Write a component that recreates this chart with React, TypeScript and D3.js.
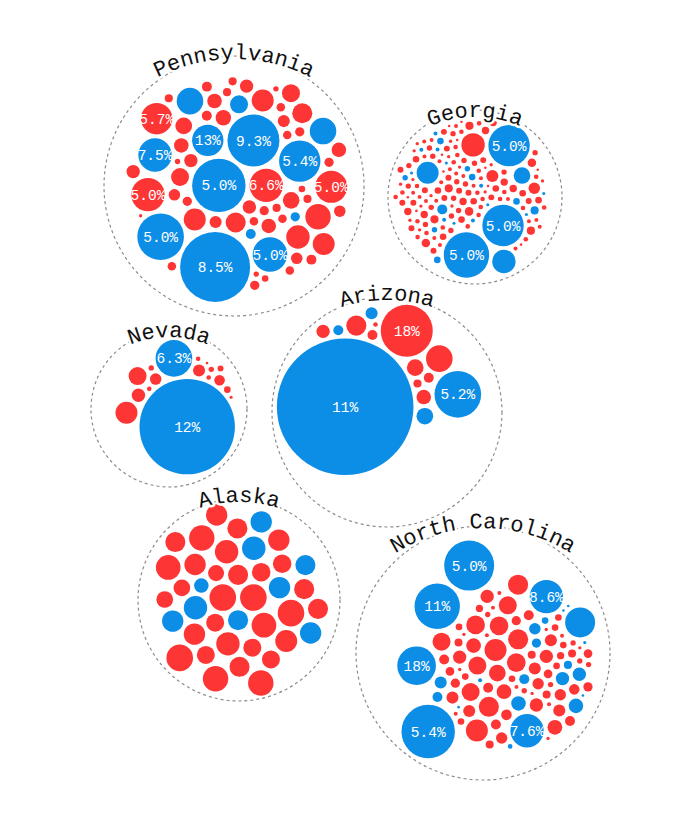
import React, { useEffect, useRef } from "react";
import * as d3 from "d3";

// one row per county: [votes (thousands), winner, share label in %]
type County = [number, string, number?];

const pennsylvania: County[] = [
  [432, "D", 5.0], [169, "R", 6.6], [27, "R"], [409, "D", 9.3], [61, "R"], [13, "R"], [149, "D", 13],
  [22, "R"], [11, "R"], [259, "D", 5.4], [32, "R"], [10, "R"], [73, "R"], [15, "D"], [27, "R"],
  [742, "D", 8.5], [42, "R"], [11, "R"], [13, "R"], [181, "D", 5.0], [49, "R"], [6.6, "R"], [20, "R"],
  [329, "D", 5.0], [36, "R"], [13, "D"], [32, "R"], [169, "R", 5.0], [11, "R"], [83, "R"], [4.4, "R"],
  [169, "D", 7.5], [27, "R"], [10, "R"], [98, "R"], [49, "D"], [15, "R"], [42, "R"], [155, "R", 5.0],
  [22, "R"], [13, "R"], [107, "D"], [73, "R"], [11, "R"], [32, "R"], [149, "R", 5.7], [10, "R"],
  [61, "R"], [4.4, "R"], [20, "R"], [107, "D"], [13, "R"], [73, "R"], [27, "R"], [11, "R"], [49, "R"],
  [10, "R"], [32, "R"], [6.6, "R"], [20, "R"], [15, "R"], [11, "R"], [1.7, "R"], [4.4, "R"], [13, "R"],
  [10, "R"], [15, "R"]
];

const georgia: County[] = [
  [5.4, "R"], [3.2, "R"], [6.6, "R"], [2.4, "R"], [4.4, "R"], [8.3, "R"], [2.4, "D"], [3.2, "R"], [5.4, "R"], [1.7, "R"],
  [4.4, "R"], [6.6, "D"], [2.4, "R"], [3.2, "R"], [11, "R"], [1.0, "R"], [4.4, "R"], [5.4, "R"], [2.4, "R"], [3.2, "R"],
  [22, "R"], [1.4, "D"], [6.6, "R"], [4.4, "R"], [2.4, "R"], [3.2, "R"], [10, "R"], [1.7, "R"], [5.4, "R"], [4.4, "D"],
  [259, "D", 5.0], [3.2, "R"], [8.3, "R"], [1.0, "R"], [4.4, "R"], [6.6, "R"], [2.4, "D"], [3.2, "R"], [5.4, "R"], [1.7, "R"],
  [15, "D"], [2.4, "R"], [4.4, "R"], [3.2, "R"], [312, "D", 5.0], [1.4, "D"], [5.4, "R"], [2.4, "R"], [6.6, "R"], [4.4, "R"],
  [83, "R"], [3.2, "R"], [1.7, "R"], [8.3, "R"], [2.4, "R"], [6.6, "D"], [4.4, "R"], [259, "D", 5.0], [1.0, "R"], [3.2, "R"],
  [2.4, "R"], [73, "D"], [1.7, "R"], [4.4, "R"], [2.4, "D"], [5.4, "R"], [3.2, "R"], [6.6, "R"], [1.4, "D"], [2.4, "R"],
  [42, "D"], [4.4, "R"], [3.2, "R"], [10, "R"], [1.7, "R"], [5.4, "R"], [2.4, "R"], [8.3, "R"], [1.0, "R"], [4.4, "D"],
  [3.2, "R"], [2.4, "R"], [6.6, "R"], [20, "R"], [1.7, "R"], [4.4, "R"], [5.4, "R"], [2.4, "D"], [3.2, "R"], [1.0, "R"],
  [83, "D"], [2.4, "R"], [6.6, "D"], [4.4, "R"], [8.3, "R"], [1.7, "R"], [3.2, "R"], [5.4, "R"], [1.4, "D"], [2.4, "R"],
  [2.4, "R"], [4.4, "R"], [11, "R"], [1.0, "R"], [3.2, "R"], [6.6, "R"], [2.4, "R"], [5.4, "R"], [1.7, "R"], [10, "D"],
  [4.4, "R"], [3.2, "R"], [2.4, "R"], [8.3, "R"], [1.0, "R"], [11, "R"], [5.4, "R"], [1.7, "R"], [2.4, "D"], [3.2, "R"],
  [6.6, "R"], [4.4, "R"], [2.4, "R"], [1.4, "D"], [10, "R"], [3.2, "R"], [1.7, "R"], [5.4, "R"], [10, "R"], [2.4, "R"],
  [4.4, "R"], [6.6, "D"], [1.0, "R"], [3.2, "R"], [8.3, "R"], [2.4, "R"], [1.7, "R"], [4.4, "D"], [5.4, "R"], [5.4, "R"],
  [3.2, "R"], [2.4, "R"], [1.0, "R"], [4.4, "R"], [1.7, "R"], [2.4, "D"], [3.2, "R"], [1.4, "D"], [1.0, "R"], [2.4, "R"],
  [1.7, "R"], [3.2, "R"], [2.4, "R"], [1.0, "R"], [1.7, "R"], [2.4, "R"], [3.2, "R"]
];

const nevada: County[] = [
  [1378, "D", 12], [203, "D", 6.3], [22, "R"], [20, "R"], [3.2, "R"], [3.2, "R"], [27, "R"], [17, "R"],
  [73, "R"], [6.6, "R"], [49, "R"], [4.4, "R"], [4.4, "R"], [3.2, "R"], [5.4, "R"], [1.5, "R"], [1.1, "R"]
];

const arizona: County[] = [
  [2826, "D", 11], [409, "R", 18], [42, "R"], [15, "R"], [61, "R"], [10, "R"], [15, "D"], [32, "R"],
  [3.2, "R"], [42, "D"], [27, "R"], [22, "D"], [15, "R"], [107, "R"], [329, "D", 5.2]
];

const alaska: County[] = [
  [107, "R"], [107, "R"], [61, "D"], [61, "R"], [39, "R"], [52, "R"], [92, "R"], [49, "R"], [32, "D"], [83, "D"],
  [69, "D"], [107, "R"], [83, "R"], [83, "R"], [83, "D"], [49, "R"], [69, "R"], [52, "R"], [69, "R"], [98, "R"],
  [49, "R"], [42, "R"], [69, "R"], [92, "R"], [73, "R"], [49, "R"], [61, "R"], [61, "R"], [61, "D"], [61, "R"],
  [69, "D"], [42, "R"], [98, "R"], [69, "R"], [69, "D"], [98, "R"], [69, "D"], [61, "R"], [61, "R"], [107, "R"]
];

const northCarolina: County[] = [
  [53, "R"], [6.7, "R"], [42, "R"], [15, "D"], [22, "R"], [73, "R"], [2.4, "R"], [33, "R"], [9.7, "R"], [61, "R"],
  [13, "D"], [19.5, "R"], [4.3, "R"], [49, "R"], [27, "R"], [1.7, "R"], [15, "R"], [32, "D"], [11.4, "R"], [53, "R"],
  [6.7, "R"], [22, "R"], [2.4, "D"], [27, "R"], [61, "R"], [9.7, "R"], [17, "R"], [20, "D"], [4.3, "R"], [33, "R"],
  [2.4, "R"], [49, "R"], [13, "R"], [6.7, "R"], [27, "D"], [15, "R"], [1.7, "R"], [22, "R"], [53, "R"], [8, "R"],
  [169, "D", 7.6], [6.7, "R"], [19.5, "R"], [2.4, "R"], [27, "R"], [4.3, "R"], [10, "D"], [9.7, "R"], [49, "R"], [1.7, "R"],
  [22, "R"], [15, "R"], [6.6, "D"], [33, "R"], [6.7, "R"], [169, "D", 8.6], [13, "R"], [2.4, "R"], [61, "R"], [4.3, "R"],
  [17, "R"], [27, "D"], [9.7, "R"], [1.7, "R"], [19.5, "R"], [6.7, "R"], [136, "D"], [11.4, "R"], [2.4, "R"], [73, "R"],
  [15, "R"], [4.3, "R"], [32, "D"], [22, "R"], [1.0, "D"], [8, "R"], [49, "R"], [6.7, "R"], [312, "D", 11], [1.7, "R"],
  [27, "R"], [11.4, "R"], [22, "D"], [2.4, "R"], [13, "R"], [9.7, "R"], [15, "D"], [4.3, "R"], [378, "D", 5.0], [1.5, "D"],
  [15, "R"], [6.7, "R"], [1.0, "D"], [2.4, "R"], [226, "D", 18], [1.7, "R"], [3.2, "D"], [1.0, "D"], [432, "D", 5.4], [1.0, "D"]
];

const stateNames = ["Pennsylvania", "Georgia", "Nevada", "Arizona", "Alaska", "North Carolina"];
const stateCounties = [pennsylvania, georgia, nevada, arizona, alaska, northCarolina];

const partyColor: Record<string, string> = { D: "#0c8de6", R: "#fd3535" };

export default function App() {
  const ref = useRef<SVGSVGElement>(null);

  useEffect(() => {
    const svg = d3.select(ref.current);
    svg.selectAll("*").remove();

    const rScale = d3.scaleSqrt().domain([0, 2800]).range([0, 68]);
    const fmt = (p: number) => (p >= 10 ? d3.format(".0f")(p) : d3.format(".1f")(p)) + "%";
    const mono = "'Liberation Mono', 'DejaVu Sans Mono', monospace";

    // ring for each state: centre x, centre y, ring radius, turn of the packed group (deg),
    // nudge of the group inside the ring, gap padding, drop of the name arc
    const slots = [
      [234, 186, 130, 0, 0, 0, 2, 3],
      [475, 197, 87, 0, 0, 0, 1.8, 7],
      [169, 409, 78, -101, 14, -2, 1.8, 6],
      [387, 412, 115, -51, -8, -10, 1.8, 3],
      [239, 600, 101, 0, 0, 0, 2, 3],
      [483, 653, 127, 105, 0, 5, 2, 2]
    ];

    stateNames.forEach((name, i) => {
      const [cx, cy, R, rot, ox, oy, pad, drop] = slots[i];
      const nodes: any[] = stateCounties[i].map(([v, party, pct]) => ({
        r: rScale(v) + pad, size: rScale(v), party, pct
      }));
      d3.packSiblings(nodes);
      const enc = d3.packEnclose(nodes);
      const a = (rot * Math.PI) / 180;
      nodes.forEach(d => {
        const x = d.x - enc.x, y = d.y - enc.y;
        d.px = x * Math.cos(a) - y * Math.sin(a) + ox;
        d.py = x * Math.sin(a) + y * Math.cos(a) + oy;
      });

      const g = svg.append("g").attr("transform", `translate(${cx},${cy})`);

      g.append("circle")
        .attr("r", R)
        .attr("fill", "none")
        .attr("stroke", "#8c8c8c")
        .attr("stroke-width", 1.2)
        .attr("stroke-dasharray", "3,3");

      g.append("g")
        .selectAll("circle")
        .data(nodes)
        .join("circle")
        .attr("cx", d => d.px)
        .attr("cy", d => d.py)
        .attr("r", d => d.size)
        .attr("fill", d => partyColor[d.party]);

      g.append("g")
        .selectAll("text")
        .data(nodes.filter(d => d.pct != null))
        .join("text")
        .attr("x", d => d.px)
        .attr("y", d => d.py)
        .attr("dy", "0.35em")
        .attr("text-anchor", "middle")
        .attr("fill", "#fff")
        .attr("font-family", mono)
        .attr("font-size", 14.5)
        .text(d => fmt(d.pct));

      // state name bent along a flatter arc over the ring
      const ra = R * 1.3;
      const acy = -R + drop + ra;
      const span = 1.0;
      const x0 = -ra * Math.sin(span), y0 = acy - ra * Math.cos(span);
      g.append("path")
        .attr("id", `arc-${i}`)
        .attr("fill", "none")
        .attr("d", `M${x0},${y0} A${ra},${ra} 0 0 1 ${-x0},${y0}`);

      g.append("text")
        .attr("font-family", mono)
        .attr("font-size", 22)
        .attr("fill", "#111")
        .attr("stroke", "#fff")
        .attr("stroke-width", 5)
        .attr("stroke-linejoin", "round")
        .attr("paint-order", "stroke")
        .append("textPath")
        .attr("href", `#arc-${i}`)
        .attr("startOffset", "50%")
        .attr("text-anchor", "middle")
        .text(name);
    });
  }, []);

  return (
    <svg
      ref={ref}
      width={686}
      height={838}
      style={{ position: "absolute", left: 0, top: 0, background: "#fff" }}
    />
  );
}
